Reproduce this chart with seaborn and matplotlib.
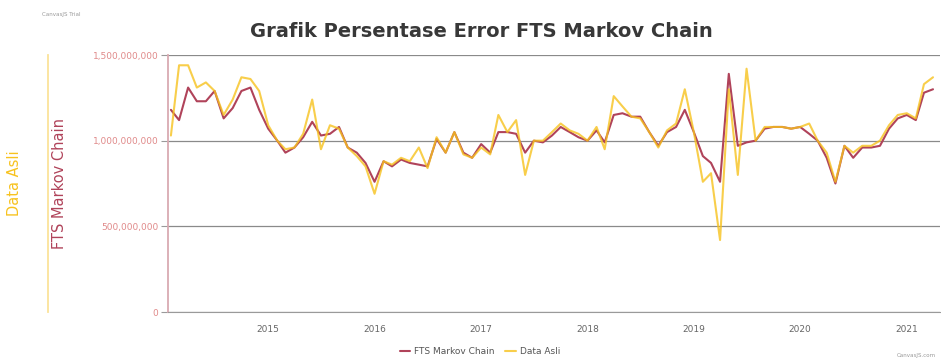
import numpy as np
import pandas as pd
import seaborn as sns
import matplotlib
matplotlib.use("Agg")
import matplotlib.pyplot as plt
import matplotlib.dates as mdates
from matplotlib.ticker import FuncFormatter

# monthly data, Feb 2014 .. Apr 2021 (values in billions)
bulan = pd.date_range("2014-02-01", periods=87, freq="MS")

fts_markov = [1.18, 1.12, 1.31, 1.23, 1.23, 1.29, 1.13, 1.19, 1.29, 1.31,
              1.18, 1.07, 1.00, 0.93, 0.96, 1.02, 1.11, 1.03, 1.04, 1.08,
              0.96, 0.93, 0.87, 0.76, 0.88, 0.85, 0.89, 0.87, 0.86, 0.85,
              1.01, 0.93, 1.05, 0.93, 0.90, 0.98, 0.93, 1.05, 1.05, 1.04,
              0.93, 1.00, 0.99, 1.03, 1.08, 1.05, 1.02, 1.00, 1.06, 0.99,
              1.15, 1.16, 1.14, 1.14, 1.05, 0.97, 1.05, 1.08, 1.18, 1.05,
              0.91, 0.87, 0.76, 1.39, 0.97, 0.99, 1.00, 1.07, 1.08, 1.08,
              1.07, 1.08, 1.04, 1.00, 0.90, 0.75, 0.97, 0.90, 0.96, 0.96,
              0.97, 1.07, 1.13, 1.15, 1.12, 1.28, 1.30]

data_asli = [1.03, 1.44, 1.44, 1.31, 1.34, 1.29, 1.15, 1.24, 1.37, 1.36,
             1.29, 1.09, 1.00, 0.95, 0.96, 1.04, 1.24, 0.95, 1.09, 1.07,
             0.96, 0.91, 0.85, 0.69, 0.88, 0.86, 0.90, 0.88, 0.96, 0.84,
             1.02, 0.93, 1.05, 0.92, 0.90, 0.96, 0.92, 1.15, 1.05, 1.12,
             0.80, 1.00, 1.00, 1.05, 1.10, 1.06, 1.04, 1.00, 1.08, 0.95,
             1.26, 1.20, 1.14, 1.13, 1.05, 0.96, 1.06, 1.10, 1.30, 1.05,
             0.76, 0.81, 0.42, 1.30, 0.80, 1.42, 1.00, 1.08, 1.08, 1.08,
             1.07, 1.08, 1.10, 1.00, 0.93, 0.76, 0.97, 0.93, 0.97, 0.97,
             1.00, 1.09, 1.15, 1.16, 1.13, 1.33, 1.37]

df = pd.DataFrame({"bulan": bulan,
                   "FTS Markov Chain": np.array(fts_markov) * 1e9,
                   "Data Asli": np.array(data_asli) * 1e9})

warna_fts = "#b0435a"
warna_asli = "#f7c21e"

sns.set_style("white")
plt.rcParams['font.family'] = ['DejaVu Sans']

fig = plt.figure(figsize=(9.41, 3.61), dpi=100)
ax = fig.add_axes([168/941, 1-312/361, (940-168)/941, (312-55)/361])

sns.lineplot(data=df, x="bulan", y="FTS Markov Chain", ax=ax, color=warna_fts,
             linewidth=1.5, label="FTS Markov Chain", legend=False, zorder=3)
sns.lineplot(data=df, x="bulan", y="Data Asli", ax=ax, color=warna_asli,
             linewidth=1.5, alpha=0.8, label="Data Asli", legend=False, zorder=4)

ax.set_ylim(0, 1.5e9)
ax.set_xlim(pd.Timestamp("2014-01-22"), pd.Timestamp("2021-04-25"))
ax.set_yticks([0, 5e8, 1e9, 1.5e9])
ax.yaxis.set_major_formatter(FuncFormatter(lambda v, p: f"{int(v):,}"))
ax.xaxis.set_major_locator(mdates.YearLocator())
ax.xaxis.set_major_formatter(mdates.DateFormatter("%Y"))

ax.grid(axis="y", color="#8a8a8a", linewidth=0.9)
ax.tick_params(axis="y", labelsize=6.5, length=5, width=0.8, pad=2,
               labelcolor="#e08a8a", color="#9a9a9a")
ax.tick_params(axis="x", labelsize=6.5, labelcolor="#666666", color="#9a9a9a",
               length=3, width=0.8, pad=6)
for s in ["top", "right"]:
    ax.spines[s].set_visible(False)
ax.spines["left"].set_color("#d9aab2")
ax.spines["left"].set_linewidth(1.3)
ax.spines["bottom"].set_color("#9a9a9a")
ax.set_xlabel("")
ax.set_ylabel("FTS Markov Chain", color=warna_fts, fontsize=10.5)
ax.yaxis.set_label_coords(-(168-67)/772, 0.5)

# second axis for Data Asli (outer yellow axis)
ax2 = ax.twinx()
ax2.set_ylim(0, 1.5e9)
ax2.spines["left"].set_position(("outward", (168-48)*0.72))
ax2.spines["left"].set_visible(True)
ax2.spines["left"].set_color("#fbe39a")
ax2.spines["left"].set_linewidth(1.3)
for s in ["top", "right", "bottom"]:
    ax2.spines[s].set_visible(False)
ax2.set_yticks([])
ax2.yaxis.set_label_position("left")
ax2.set_ylabel("Data Asli", color=warna_asli, fontsize=10.5)
ax2.yaxis.set_label_coords(-(168-22)/772, 0.5)

fig.text(0.512, 0.912, "Grafik Persentase Error FTS Markov Chain", ha="center",
         va="center", fontsize=14, fontweight="bold", color="#383838")
fig.text(0.045, 0.955, "CanvasJS Trial", fontsize=4, color="#999999")
fig.text(0.995, 0.01, "CanvasJS.com", fontsize=4, color="#999999", ha="right")

h1, l1 = ax.get_legend_handles_labels()
fig.legend(h1, l1, loc="center", bbox_to_anchor=(0.51, 0.025), ncol=2,
           frameon=False, fontsize=6.5, labelcolor="#555555", handlelength=1.2,
           columnspacing=1.2, handletextpad=0.4)

fig.savefig("out.png", dpi=100)
